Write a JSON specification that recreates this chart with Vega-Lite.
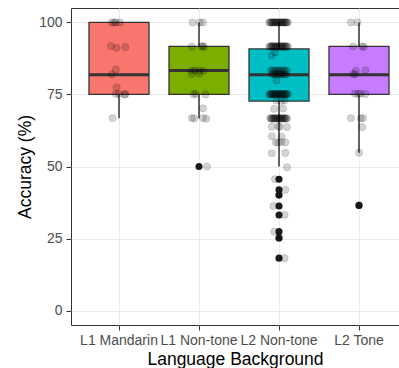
{
  "$schema": "https://vega.github.io/schema/vega-lite/v6.json",
  "autosize": {"type": "none"},
  "padding": {"left": 71, "top": 8, "right": 0, "bottom": 43},
  "width": 328,
  "height": 317,
  "config": {
    "font": "Liberation Sans",
    "view": {"stroke": "#333333", "strokeWidth": 1}
  },
  "datasets": {
    "boxes": [
      {"group": "L1 Mandarin", "lower": 66.7, "q1": 75, "median": 81.8, "q3": 100, "upper": 100},
      {"group": "L1 Non-tone", "lower": 66.7, "q1": 75, "median": 83.3, "q3": 91.7, "upper": 100},
      {"group": "L2 Non-tone", "lower": 50, "q1": 72.7, "median": 81.8, "q3": 90.8, "upper": 100},
      {"group": "L2 Tone", "lower": 54.8, "q1": 75, "median": 81.8, "q3": 91.7, "upper": 100}
    ],
    "outliers": [
      {"group": "L1 Non-tone", "acc": 50},
      {"group": "L2 Non-tone", "acc": 45.6},
      {"group": "L2 Non-tone", "acc": 41.9},
      {"group": "L2 Non-tone", "acc": 40.1},
      {"group": "L2 Non-tone", "acc": 36.3},
      {"group": "L2 Non-tone", "acc": 33.2},
      {"group": "L2 Non-tone", "acc": 27.4},
      {"group": "L2 Non-tone", "acc": 25.2},
      {"group": "L2 Non-tone", "acc": 18.2},
      {"group": "L2 Tone", "acc": 36.5}
    ],
    "points": [
      {"group": "L1 Mandarin", "acc": 100, "j": -0.09},
      {"group": "L1 Mandarin", "acc": 100, "j": -0.06},
      {"group": "L1 Mandarin", "acc": 100, "j": -0.04},
      {"group": "L1 Mandarin", "acc": 100, "j": 0.01},
      {"group": "L1 Mandarin", "acc": 91.8, "j": -0.1},
      {"group": "L1 Mandarin", "acc": 91.2, "j": -0.03},
      {"group": "L1 Mandarin", "acc": 91.4, "j": 0.08},
      {"group": "L1 Mandarin", "acc": 83.6, "j": -0.04},
      {"group": "L1 Mandarin", "acc": 82.0, "j": -0.09},
      {"group": "L1 Mandarin", "acc": 77.5, "j": -0.03},
      {"group": "L1 Mandarin", "acc": 75.2, "j": -0.04},
      {"group": "L1 Mandarin", "acc": 75.2, "j": 0.0},
      {"group": "L1 Mandarin", "acc": 75.0, "j": 0.07},
      {"group": "L1 Mandarin", "acc": 75.1, "j": 0.08},
      {"group": "L1 Mandarin", "acc": 66.8, "j": -0.08},
      {"group": "L1 Non-tone", "acc": 100, "j": -0.08},
      {"group": "L1 Non-tone", "acc": 100, "j": 0.01},
      {"group": "L1 Non-tone", "acc": 100, "j": 0.05},
      {"group": "L1 Non-tone", "acc": 91.6, "j": -0.09},
      {"group": "L1 Non-tone", "acc": 91.7, "j": 0.03},
      {"group": "L1 Non-tone", "acc": 91.5, "j": 0.06},
      {"group": "L1 Non-tone", "acc": 91.8, "j": 0.05},
      {"group": "L1 Non-tone", "acc": 83.3, "j": -0.09},
      {"group": "L1 Non-tone", "acc": 83.4, "j": -0.05},
      {"group": "L1 Non-tone", "acc": 83.3, "j": 0.01},
      {"group": "L1 Non-tone", "acc": 83.2, "j": 0.06},
      {"group": "L1 Non-tone", "acc": 82.0, "j": -0.09},
      {"group": "L1 Non-tone", "acc": 82.2, "j": 0.0},
      {"group": "L1 Non-tone", "acc": 75.1, "j": -0.07},
      {"group": "L1 Non-tone", "acc": 75.2, "j": -0.04},
      {"group": "L1 Non-tone", "acc": 75.0, "j": 0.08},
      {"group": "L1 Non-tone", "acc": 70.2, "j": 0.05},
      {"group": "L1 Non-tone", "acc": 66.8, "j": -0.09},
      {"group": "L1 Non-tone", "acc": 66.7, "j": -0.06},
      {"group": "L1 Non-tone", "acc": 66.8, "j": 0.05},
      {"group": "L1 Non-tone", "acc": 66.6, "j": 0.09},
      {"group": "L1 Non-tone", "acc": 50.0, "j": 0.1},
      {"group": "L2 Non-tone", "acc": 100, "j": -0.12},
      {"group": "L2 Non-tone", "acc": 100, "j": -0.11},
      {"group": "L2 Non-tone", "acc": 100, "j": -0.1},
      {"group": "L2 Non-tone", "acc": 100, "j": -0.09},
      {"group": "L2 Non-tone", "acc": 100, "j": -0.08},
      {"group": "L2 Non-tone", "acc": 100, "j": -0.07},
      {"group": "L2 Non-tone", "acc": 100, "j": -0.06},
      {"group": "L2 Non-tone", "acc": 100, "j": -0.05},
      {"group": "L2 Non-tone", "acc": 100, "j": -0.04},
      {"group": "L2 Non-tone", "acc": 100, "j": -0.03},
      {"group": "L2 Non-tone", "acc": 100, "j": -0.02},
      {"group": "L2 Non-tone", "acc": 100, "j": -0.01},
      {"group": "L2 Non-tone", "acc": 100, "j": 0.0},
      {"group": "L2 Non-tone", "acc": 100, "j": 0.01},
      {"group": "L2 Non-tone", "acc": 100, "j": 0.02},
      {"group": "L2 Non-tone", "acc": 100, "j": 0.03},
      {"group": "L2 Non-tone", "acc": 100, "j": 0.04},
      {"group": "L2 Non-tone", "acc": 100, "j": 0.05},
      {"group": "L2 Non-tone", "acc": 100, "j": 0.06},
      {"group": "L2 Non-tone", "acc": 100, "j": 0.07},
      {"group": "L2 Non-tone", "acc": 100, "j": 0.08},
      {"group": "L2 Non-tone", "acc": 100, "j": 0.09},
      {"group": "L2 Non-tone", "acc": 100, "j": 0.1},
      {"group": "L2 Non-tone", "acc": 100, "j": 0.11},
      {"group": "L2 Non-tone", "acc": 91.6, "j": -0.12},
      {"group": "L2 Non-tone", "acc": 91.8, "j": -0.11},
      {"group": "L2 Non-tone", "acc": 91.5, "j": -0.1},
      {"group": "L2 Non-tone", "acc": 91.7, "j": -0.09},
      {"group": "L2 Non-tone", "acc": 91.9, "j": -0.08},
      {"group": "L2 Non-tone", "acc": 91.6, "j": -0.07},
      {"group": "L2 Non-tone", "acc": 91.7, "j": -0.06},
      {"group": "L2 Non-tone", "acc": 91.5, "j": -0.05},
      {"group": "L2 Non-tone", "acc": 91.8, "j": -0.04},
      {"group": "L2 Non-tone", "acc": 91.6, "j": -0.03},
      {"group": "L2 Non-tone", "acc": 91.7, "j": -0.02},
      {"group": "L2 Non-tone", "acc": 91.5, "j": -0.01},
      {"group": "L2 Non-tone", "acc": 91.8, "j": 0.0},
      {"group": "L2 Non-tone", "acc": 91.6, "j": 0.01},
      {"group": "L2 Non-tone", "acc": 91.7, "j": 0.02},
      {"group": "L2 Non-tone", "acc": 91.9, "j": 0.03},
      {"group": "L2 Non-tone", "acc": 91.6, "j": 0.04},
      {"group": "L2 Non-tone", "acc": 91.5, "j": 0.05},
      {"group": "L2 Non-tone", "acc": 91.7, "j": 0.06},
      {"group": "L2 Non-tone", "acc": 91.8, "j": 0.07},
      {"group": "L2 Non-tone", "acc": 91.6, "j": 0.08},
      {"group": "L2 Non-tone", "acc": 91.7, "j": 0.09},
      {"group": "L2 Non-tone", "acc": 91.5, "j": 0.1},
      {"group": "L2 Non-tone", "acc": 91.7, "j": 0.11},
      {"group": "L2 Non-tone", "acc": 89.6, "j": -0.05},
      {"group": "L2 Non-tone", "acc": 88.5, "j": -0.09},
      {"group": "L2 Non-tone", "acc": 83.3, "j": -0.1},
      {"group": "L2 Non-tone", "acc": 83.4, "j": -0.08},
      {"group": "L2 Non-tone", "acc": 83.2, "j": -0.06},
      {"group": "L2 Non-tone", "acc": 83.3, "j": -0.04},
      {"group": "L2 Non-tone", "acc": 83.4, "j": -0.02},
      {"group": "L2 Non-tone", "acc": 83.2, "j": 0.0},
      {"group": "L2 Non-tone", "acc": 83.3, "j": 0.02},
      {"group": "L2 Non-tone", "acc": 83.3, "j": 0.04},
      {"group": "L2 Non-tone", "acc": 83.4, "j": 0.06},
      {"group": "L2 Non-tone", "acc": 83.2, "j": 0.08},
      {"group": "L2 Non-tone", "acc": 83.3, "j": 0.1},
      {"group": "L2 Non-tone", "acc": 82.0, "j": -0.09},
      {"group": "L2 Non-tone", "acc": 82.1, "j": -0.07},
      {"group": "L2 Non-tone", "acc": 81.9, "j": -0.05},
      {"group": "L2 Non-tone", "acc": 82.1, "j": -0.03},
      {"group": "L2 Non-tone", "acc": 82.0, "j": -0.01},
      {"group": "L2 Non-tone", "acc": 81.9, "j": 0.01},
      {"group": "L2 Non-tone", "acc": 82.1, "j": 0.03},
      {"group": "L2 Non-tone", "acc": 82.0, "j": 0.05},
      {"group": "L2 Non-tone", "acc": 82.0, "j": 0.07},
      {"group": "L2 Non-tone", "acc": 81.9, "j": 0.09},
      {"group": "L2 Non-tone", "acc": 79.8, "j": -0.03},
      {"group": "L2 Non-tone", "acc": 75.1, "j": -0.12},
      {"group": "L2 Non-tone", "acc": 75.0, "j": -0.11},
      {"group": "L2 Non-tone", "acc": 75.2, "j": -0.1},
      {"group": "L2 Non-tone", "acc": 75.1, "j": -0.09},
      {"group": "L2 Non-tone", "acc": 75.0, "j": -0.08},
      {"group": "L2 Non-tone", "acc": 75.2, "j": -0.07},
      {"group": "L2 Non-tone", "acc": 75.1, "j": -0.06},
      {"group": "L2 Non-tone", "acc": 75.0, "j": -0.05},
      {"group": "L2 Non-tone", "acc": 75.2, "j": -0.04},
      {"group": "L2 Non-tone", "acc": 75.1, "j": -0.03},
      {"group": "L2 Non-tone", "acc": 75.0, "j": -0.02},
      {"group": "L2 Non-tone", "acc": 75.1, "j": -0.01},
      {"group": "L2 Non-tone", "acc": 75.2, "j": 0.0},
      {"group": "L2 Non-tone", "acc": 75.0, "j": 0.01},
      {"group": "L2 Non-tone", "acc": 75.1, "j": 0.02},
      {"group": "L2 Non-tone", "acc": 75.2, "j": 0.03},
      {"group": "L2 Non-tone", "acc": 75.0, "j": 0.04},
      {"group": "L2 Non-tone", "acc": 75.1, "j": 0.05},
      {"group": "L2 Non-tone", "acc": 75.2, "j": 0.06},
      {"group": "L2 Non-tone", "acc": 75.0, "j": 0.07},
      {"group": "L2 Non-tone", "acc": 75.1, "j": 0.08},
      {"group": "L2 Non-tone", "acc": 75.0, "j": 0.09},
      {"group": "L2 Non-tone", "acc": 75.2, "j": 0.1},
      {"group": "L2 Non-tone", "acc": 75.1, "j": 0.11},
      {"group": "L2 Non-tone", "acc": 72.9, "j": -0.03},
      {"group": "L2 Non-tone", "acc": 72.8, "j": 0.03},
      {"group": "L2 Non-tone", "acc": 72.9, "j": 0.07},
      {"group": "L2 Non-tone", "acc": 70.0, "j": -0.06},
      {"group": "L2 Non-tone", "acc": 70.1, "j": 0.05},
      {"group": "L2 Non-tone", "acc": 66.7, "j": -0.11},
      {"group": "L2 Non-tone", "acc": 66.8, "j": -0.1},
      {"group": "L2 Non-tone", "acc": 66.6, "j": -0.09},
      {"group": "L2 Non-tone", "acc": 66.7, "j": -0.08},
      {"group": "L2 Non-tone", "acc": 66.8, "j": -0.07},
      {"group": "L2 Non-tone", "acc": 66.6, "j": -0.06},
      {"group": "L2 Non-tone", "acc": 66.7, "j": -0.05},
      {"group": "L2 Non-tone", "acc": 66.8, "j": -0.04},
      {"group": "L2 Non-tone", "acc": 66.7, "j": -0.03},
      {"group": "L2 Non-tone", "acc": 66.6, "j": -0.02},
      {"group": "L2 Non-tone", "acc": 66.7, "j": -0.01},
      {"group": "L2 Non-tone", "acc": 66.8, "j": 0.0},
      {"group": "L2 Non-tone", "acc": 66.6, "j": 0.01},
      {"group": "L2 Non-tone", "acc": 66.7, "j": 0.02},
      {"group": "L2 Non-tone", "acc": 66.8, "j": 0.03},
      {"group": "L2 Non-tone", "acc": 66.7, "j": 0.04},
      {"group": "L2 Non-tone", "acc": 66.6, "j": 0.05},
      {"group": "L2 Non-tone", "acc": 66.7, "j": 0.06},
      {"group": "L2 Non-tone", "acc": 66.8, "j": 0.07},
      {"group": "L2 Non-tone", "acc": 66.7, "j": 0.08},
      {"group": "L2 Non-tone", "acc": 66.6, "j": 0.09},
      {"group": "L2 Non-tone", "acc": 66.7, "j": 0.1},
      {"group": "L2 Non-tone", "acc": 63.8, "j": -0.09},
      {"group": "L2 Non-tone", "acc": 63.9, "j": -0.01},
      {"group": "L2 Non-tone", "acc": 63.8, "j": 0.01},
      {"group": "L2 Non-tone", "acc": 63.7, "j": 0.1},
      {"group": "L2 Non-tone", "acc": 60.5, "j": -0.09},
      {"group": "L2 Non-tone", "acc": 60.4, "j": 0.03},
      {"group": "L2 Non-tone", "acc": 58.4, "j": -0.04},
      {"group": "L2 Non-tone", "acc": 58.3, "j": -0.01},
      {"group": "L2 Non-tone", "acc": 58.5, "j": 0.03},
      {"group": "L2 Non-tone", "acc": 58.4, "j": 0.08},
      {"group": "L2 Non-tone", "acc": 54.6, "j": -0.09},
      {"group": "L2 Non-tone", "acc": 54.7, "j": 0.08},
      {"group": "L2 Non-tone", "acc": 49.7, "j": 0.1},
      {"group": "L2 Non-tone", "acc": 45.6, "j": -0.05},
      {"group": "L2 Non-tone", "acc": 41.9, "j": 0.08},
      {"group": "L2 Non-tone", "acc": 40.1, "j": 0.0},
      {"group": "L2 Non-tone", "acc": 36.3, "j": -0.07},
      {"group": "L2 Non-tone", "acc": 33.2, "j": 0.07},
      {"group": "L2 Non-tone", "acc": 27.4, "j": -0.06},
      {"group": "L2 Non-tone", "acc": 25.2, "j": 0.0},
      {"group": "L2 Non-tone", "acc": 18.2, "j": 0.07},
      {"group": "L2 Tone", "acc": 100, "j": -0.1},
      {"group": "L2 Tone", "acc": 100, "j": -0.02},
      {"group": "L2 Tone", "acc": 91.6, "j": -0.075},
      {"group": "L2 Tone", "acc": 91.7, "j": 0.04},
      {"group": "L2 Tone", "acc": 91.5, "j": 0.06},
      {"group": "L2 Tone", "acc": 83.3, "j": -0.04},
      {"group": "L2 Tone", "acc": 83.4, "j": 0.08},
      {"group": "L2 Tone", "acc": 82.1, "j": -0.075},
      {"group": "L2 Tone", "acc": 82.0, "j": -0.05},
      {"group": "L2 Tone", "acc": 75.3, "j": -0.05},
      {"group": "L2 Tone", "acc": 75.2, "j": -0.01},
      {"group": "L2 Tone", "acc": 75.3, "j": 0.02},
      {"group": "L2 Tone", "acc": 75.2, "j": 0.08},
      {"group": "L2 Tone", "acc": 66.8, "j": -0.1},
      {"group": "L2 Tone", "acc": 66.7, "j": 0.02},
      {"group": "L2 Tone", "acc": 66.8, "j": 0.05},
      {"group": "L2 Tone", "acc": 63.7, "j": 0.04},
      {"group": "L2 Tone", "acc": 54.8, "j": 0.0},
      {"group": "L2 Tone", "acc": 36.5, "j": 0.0}
    ]
  },
  "encoding": {
    "x": {
      "field": "group",
      "type": "nominal",
      "sort": ["L1 Mandarin", "L1 Non-tone", "L2 Non-tone", "L2 Tone"],
      "scale": {"paddingInner": 0, "paddingOuter": 0.05, "align": 1},
      "axis": {
        "title": "Language Background",
        "titleFontSize": 17.5,
        "titleFontWeight": "normal",
        "titleColor": "#000000",
        "titleBaseline": "alphabetic",
        "titleY": 39.5,
        "labelFontSize": 14,
        "labelColor": "#4D4D4D",
        "labelAngle": 0,
        "labelPadding": 3,
        "tickSize": 5,
        "tickColor": "#333333",
        "domain": false,
        "grid": true,
        "gridColor": "#EBEBEB",
        "bandPosition": 0.5
      }
    }
  },
  "layer": [
    {
      "data": {"name": "boxes"},
      "mark": {"type": "rule", "color": "#333333", "strokeWidth": 1.5},
      "encoding": {
        "y": {
          "field": "lower",
          "type": "quantitative",
          "title": "Accuracy (%)",
          "scale": {"domain": [-5, 105], "nice": false, "zero": false},
          "axis": {
            "values": [0, 12.5, 25, 37.5, 50, 62.5, 75, 87.5, 100],
            "labelExpr": "datum.value % 25 === 0 ? datum.label : ''",
            "labelFontSize": 14,
            "labelColor": "#4D4D4D",
            "labelPadding": 4,
            "tickColor": "#333333",
            "tickSize": {"condition": {"test": "datum.value % 25 === 0", "value": 5}, "value": 0},
            "domain": false,
            "grid": true,
            "gridColor": "#EBEBEB",
            "gridWidth": {"condition": {"test": "datum.value % 25 === 0", "value": 1}, "value": 0.6},
            "titleFontSize": 17.5,
            "titleFontWeight": "normal",
            "titleColor": "#000000",
            "titleBaseline": "alphabetic",
            "titleAngle": 270,
            "titleAlign": "center",
            "titleX": -40.5,
            "titleY": 158.5
          }
        },
        "y2": {"field": "upper"}
      }
    },
    {
      "data": {"name": "boxes"},
      "mark": {"type": "bar", "size": 60, "stroke": "#333333", "strokeWidth": 1.3},
      "encoding": {
        "y": {"field": "q1", "type": "quantitative", "title": "Accuracy (%)"},
        "y2": {"field": "q3"},
        "color": {
          "field": "group",
          "type": "nominal",
          "scale": {
            "domain": ["L1 Mandarin", "L1 Non-tone", "L2 Non-tone", "L2 Tone"],
            "range": ["#F8766D", "#7CAE00", "#00BFC4", "#C77CFF"]
          },
          "legend": null
        }
      }
    },
    {
      "data": {"name": "boxes"},
      "mark": {"type": "tick", "size": 60, "thickness": 3, "color": "#333333", "opacity": 1},
      "encoding": {
        "y": {"field": "median", "type": "quantitative", "title": "Accuracy (%)"}
      }
    },
    {
      "data": {"name": "outliers"},
      "mark": {"type": "point", "filled": true, "color": "#1A1A1A", "opacity": 1, "size": 50},
      "encoding": {
        "y": {"field": "acc", "type": "quantitative", "title": "Accuracy (%)"}
      }
    },
    {
      "data": {"name": "points"},
      "mark": {"type": "point", "filled": true, "fill": "#000000", "fillOpacity": 0.17, "stroke": "#000000", "strokeOpacity": 0.12, "strokeWidth": 1, "size": 52},
      "encoding": {
        "y": {"field": "acc", "type": "quantitative", "title": "Accuracy (%)"},
        "xOffset": {"field": "j", "type": "quantitative", "scale": {"domain": [-0.5, 0.5]}}
      }
    }
  ]
}
